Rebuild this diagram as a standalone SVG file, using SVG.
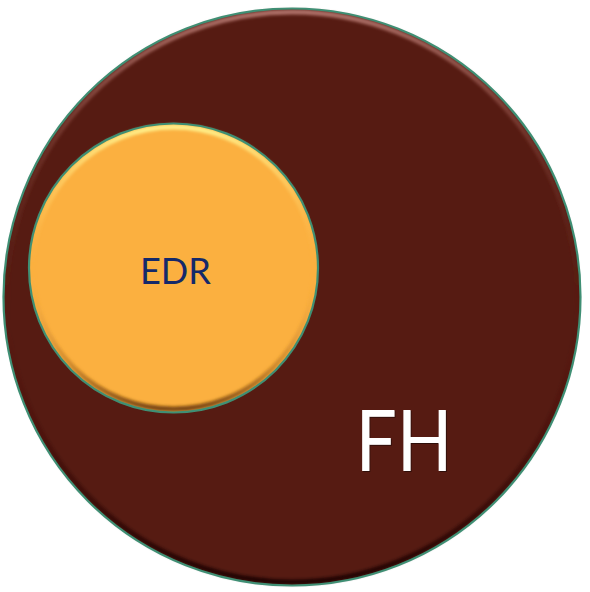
<svg xmlns="http://www.w3.org/2000/svg" width="590" height="592" viewBox="0 0 590 592">
  <style>
    .edge { fill: none; stroke: #3f8f74; stroke-width: 2.2; }
    .label { font-family: Lato, "Liberation Sans", sans-serif; font-weight: 400; }
  </style>
  <defs>
    <linearGradient id="bevelBig" x1="0" y1="0" x2="0" y2="1">
      <stop offset="0" stop-color="#b87a72" stop-opacity="0.9"/>
      <stop offset="0.25" stop-color="#8a4a40" stop-opacity="0.4"/>
      <stop offset="0.55" stop-color="#561b12" stop-opacity="0"/>
      <stop offset="0.85" stop-color="#1e0603" stop-opacity="0.5"/>
      <stop offset="1" stop-color="#140402" stop-opacity="0.9"/>
    </linearGradient>
    <linearGradient id="bevelSmall" x1="0" y1="0" x2="0" y2="1">
      <stop offset="0" stop-color="#fff08a" stop-opacity="1"/>
      <stop offset="0.2" stop-color="#ffd870" stop-opacity="0.6"/>
      <stop offset="0.5" stop-color="#fbb040" stop-opacity="0"/>
      <stop offset="0.85" stop-color="#a0601a" stop-opacity="0.5"/>
      <stop offset="1" stop-color="#6a3a08" stop-opacity="0.9"/>
    </linearGradient>
    <filter id="soft" x="-10%" y="-10%" width="120%" height="120%">
      <feGaussianBlur stdDeviation="1.4"/>
    </filter>
    <filter id="txtShadow" x="-10%" y="-10%" width="130%" height="130%">
      <feDropShadow dx="1" dy="1" stdDeviation="0.6" flood-color="#000" flood-opacity="0.45"/>
    </filter>
  </defs>

  <g id="node-FH">
    <circle cx="292" cy="297" r="288.5" fill="#561b12"/>
    <circle cx="292" cy="297" r="285" fill="none" stroke="url(#bevelBig)" stroke-width="5" filter="url(#soft)"/>
    <circle class="edge" cx="292" cy="297" r="288.5"/>
    <text class="label" x="404" y="471" font-size="86" fill="#ffffff" text-anchor="middle" textLength="97" lengthAdjust="spacingAndGlyphs" filter="url(#txtShadow)">FH</text>
  </g>

  <g id="node-EDR">
    <circle cx="173.5" cy="268" r="144.5" fill="#fbb040"/>
    <circle cx="173.5" cy="268" r="141" fill="none" stroke="url(#bevelSmall)" stroke-width="5" filter="url(#soft)"/>
    <circle class="edge" cx="173.5" cy="268" r="144.5"/>
    <text class="label" x="175.5" y="284" font-size="37" fill="#14296a" text-anchor="middle" textLength="71" lengthAdjust="spacingAndGlyphs">EDR</text>
  </g>

  <g id="connectors"/>
</svg>
